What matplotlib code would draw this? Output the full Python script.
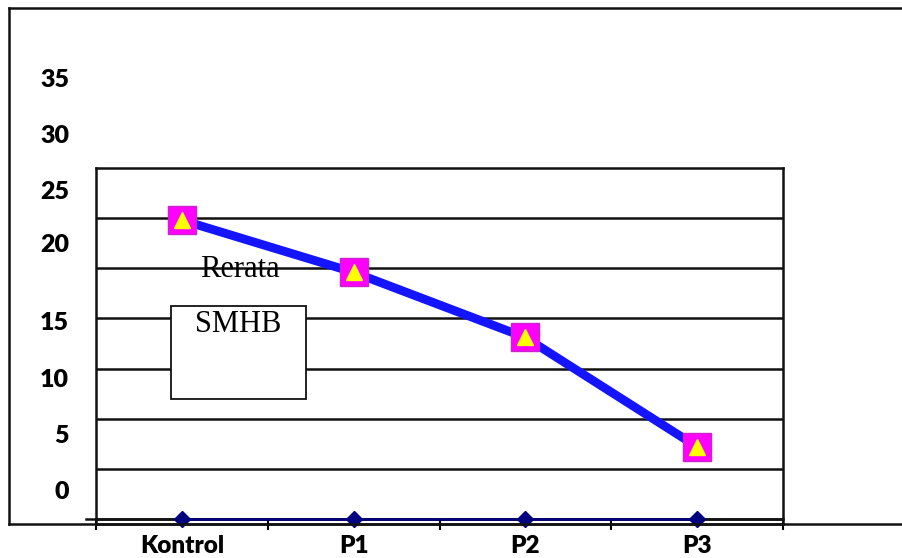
import matplotlib.pyplot as plt
from matplotlib.patches import Rectangle
import numpy as np

# data
categories = ["Kontrol", "P1", "P2", "P3"]
rerata = [29.8, 24.6, 18.1, 7.2]
baseline = [0, 0, 0, 0]
ytick_labels = ["0", "5", "10", "15", "20", "25", "30", "35"]

# where the (misplaced) y labels sit, in pixels from the top
ytick_px = [499, 443, 387, 330, 252, 199, 143, 87]

W, H = 902, 558
fig = plt.figure(figsize=(W / 100, H / 100), dpi=100)

# inner plot box
ax = fig.add_axes([96 / W, (H - 524) / H, (783 - 96) / W, (524 - 168) / H])
x = np.arange(len(categories))
ax.set_xlim(-0.5, len(categories) - 0.5)
ax.set_ylim(-0.5, 35)
ax.set_yticks(np.arange(0, 35, 5))
ax.yaxis.grid(True, color="#111111", lw=1.8)
ax.set_axisbelow(True)
ax.tick_params(axis="y", length=0, labelleft=False)
for s in ax.spines.values():
    s.set_linewidth(1.8)
    s.set_color("#111111")

ax.set_xticks(np.arange(-0.5, len(categories), 1.0))
ax.set_xticklabels([])
ax.tick_params(axis="x", which="major", direction="inout", length=8, width=1.5)
ax.set_xticks(x, minor=True)
ax.set_xticklabels(categories, minor=True, fontfamily="Lato", fontweight="heavy", fontsize=17.5)
ax.tick_params(axis="x", which="minor", length=0, pad=8)

# zero line pokes out a little to the left
ax.plot([-0.015, 1], [0, 0], transform=ax.get_yaxis_transform(), color="#111111",
        lw=1.8, clip_on=False)
ax.plot(x, baseline, color="#000080", lw=1.8, marker="D", ms=8.5, mfc="#000080",
        mec="#000080", clip_on=False, zorder=4)

ax.plot(x, rerata, color="#1414ff", lw=6.3, zorder=5, solid_capstyle="butt")
ax.plot(x, rerata, ls="none", marker="s", ms=20.5, mfc="#ff00ff", mec="#cc22cc",
        mew=1, zorder=6)
ax.plot(x, rerata, ls="none", marker="^", ms=11, mfc="#ffff00", mec="#ffff00",
        zorder=7)

# outer frame, in pixel coordinates
frame = fig.add_axes([9 / W, (H - 524) / H, (W - 9) / W, (524 - 8) / H])
frame.set_xlim(9, W)
frame.set_ylim(524, 8)
frame.patch.set_visible(False)
frame.set_xticks([])
frame.set_yticks([])
frame.spines["right"].set_visible(False)
for side in ["left", "top", "bottom"]:
    frame.spines[side].set_linewidth(1.8)
    frame.spines[side].set_color("#111111")

for lab, py in zip(ytick_labels, ytick_px):
    frame.text(69, py, lab, ha="right", va="baseline", fontfamily="Lato",
               fontweight="heavy", fontsize=18)

frame.add_patch(Rectangle((171, 306), 135, 93, facecolor="white", edgecolor="#111111",
                          lw=1.3, zorder=3))
frame.text(240, 277, "Rerata", ha="center", va="baseline",
           fontfamily="Liberation Serif", fontsize=22, zorder=4)
frame.text(238, 332, "SMHB", ha="center", va="baseline",
           fontfamily="Liberation Serif", fontsize=22, zorder=4)

fig.savefig("out.png", dpi=100)
